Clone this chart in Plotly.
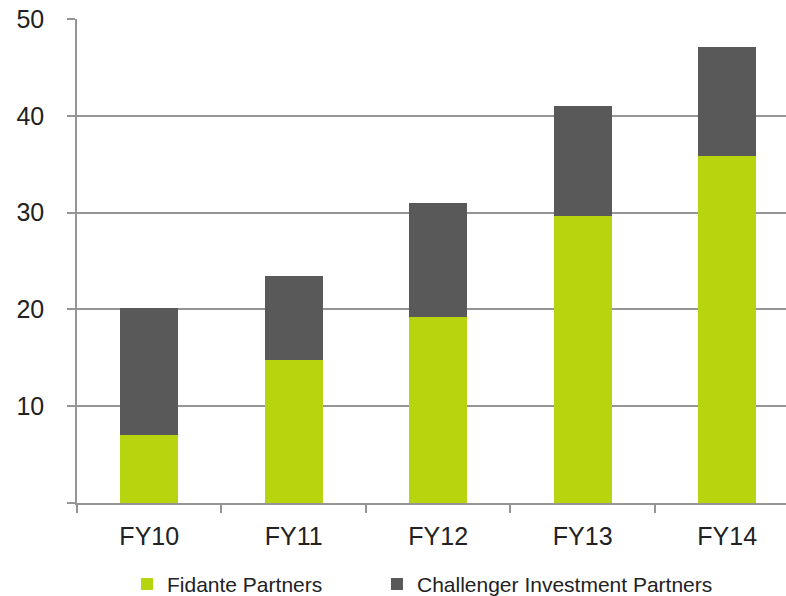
import plotly.graph_objects as go

# Financial years on the category axis
years = ["FY10", "FY11", "FY12", "FY13", "FY14"]

# Stacked series values
fidante = [7.0, 14.8, 19.2, 29.7, 35.8]
challenger = [13.1, 8.7, 11.8, 11.3, 11.3]

# Value-axis ticks (0 carries a tick mark but no label)
y_ticks = [0, 10, 20, 30, 40, 50]
y_tick_text = ["", "10", "20", "30", "40", "50"]

GREEN = "#b8d40e"
DARK = "#595959"
AXIS_GREY = "#959595"
TEXT = "#222222"
FONT = "Liberation Sans, Arial, sans-serif"

fig = go.Figure()
fig.add_trace(go.Bar(name="Fidante Partners", x=years, y=fidante,
                     marker=dict(color=GREEN, line=dict(width=0)), width=0.4,
                     legend="legend"))
fig.add_trace(go.Bar(name="Challenger Investment Partners", x=years, y=challenger,
                     marker=dict(color=DARK, line=dict(width=0)), width=0.4,
                     legend="legend2"))

legend_style = dict(orientation="h", xanchor="left", y=-0.168, yanchor="middle",
                    font=dict(size=21, color=TEXT), bgcolor="rgba(0,0,0,0)")

fig.update_layout(
    barmode="stack",
    width=786, height=596,
    margin=dict(l=77, r=0, t=19, b=93, autoexpand=False),
    paper_bgcolor="white", plot_bgcolor="white",
    font=dict(family=FONT, color=TEXT),
    showlegend=True,
    legend=dict(x=0.0705, **legend_style),
    legend2=dict(x=0.4231, **legend_style),
)

fig.update_xaxes(
    range=[-0.5, 4.407],
    showline=True, linecolor=AXIS_GREY, linewidth=1.5,
    ticks="outside", tickson="boundaries", ticklen=8, tickcolor=AXIS_GREY, tickwidth=1.5,
    tickfont=dict(size=25, color=TEXT),
    ticklabelstandoff=10,
    showgrid=False, zeroline=False,
)
fig.update_yaxes(
    range=[0, 50],
    tickvals=y_ticks, ticktext=y_tick_text,
    showline=True, linecolor=AXIS_GREY, linewidth=1.5,
    ticks="outside", ticklen=8, tickcolor=AXIS_GREY, tickwidth=1.5,
    tickfont=dict(size=25, color=TEXT),
    ticklabelstandoff=18,
    showgrid=True, gridcolor=AXIS_GREY, gridwidth=1.5,
    zeroline=False,
)

fig.write_html("out.html")
